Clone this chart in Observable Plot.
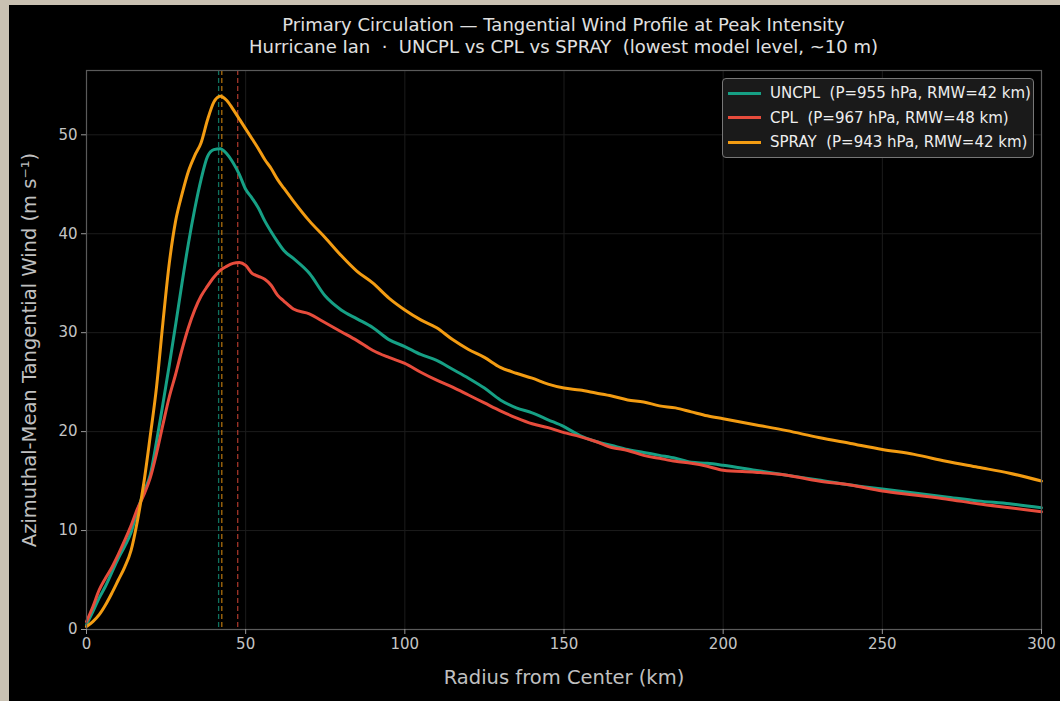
<!DOCTYPE html>
<html>
<head>
<meta charset="utf-8">
<script src="https://cdn.jsdelivr.net/npm/d3@7"></script>
<script src="https://cdn.jsdelivr.net/npm/@observablehq/plot@0.6"></script>
<style>
  html, body { margin: 0; padding: 0; background: #c9c1b2; width: 1060px; height: 701px; overflow: hidden; }
  #panel { position: absolute; left: 9px; top: 5px; width: 1051px; height: 696px; background: #000; font-family: "DejaVu Sans", sans-serif; }
  #title { position: absolute; left: 77px; width: 955px; top: 9px; text-align: center; color: #e0e0e0; font-size: 18px; line-height: 22px; white-space: pre; }
  #chart { position: absolute; left: 0; top: 55px; }
  #legend { position: absolute; left: 713px; top: 73px; width: 312px; height: 80px; background: #1a1a1a; border: 1px solid #777; border-radius: 4px; box-sizing: border-box; padding: 2px 0 0 5px; }
  .row { display: flex; align-items: center; height: 24.5px; color: #eee; font-size: 15px; white-space: pre; }
  .sw { width: 33px; height: 3px; margin-right: 9px; }
</style>
</head>
<body>
<div id="panel">
  <div id="title"></div>
  <div id="chart"></div>
  <div id="legend"></div>
</div>
<script>
const titleLines = ["Primary Circulation — Tangential Wind Profile at Peak Intensity", "Hurricane Ian  ·  UNCPL vs CPL vs SPRAY  (lowest model level, ~10 m)"];

const radius = [0,2,4,6,8,10,12,14,16,18,20,22,24,26,28,30,32,34,36,38,40,42,44,46,48,50,52,54,56,58,60,62,65,70,75,80,85,90,95,100,105,110,115,120,125,130,135,140,145,150,155,160,165,170,175,180,185,190,195,200,210,220,230,240,250,260,270,280,290,300];

const uncpl = [0.5,1.8,3.2,4.4,5.8,7.2,8.4,9.8,12.0,13.9,15.6,19.0,22.8,26.7,30.8,35.0,39.0,42.5,45.5,47.8,48.5,48.6,48.1,47.2,46.0,44.5,43.6,42.6,41.3,40.2,39.2,38.3,37.5,36.0,33.7,32.3,31.4,30.5,29.3,28.6,27.8,27.2,26.3,25.4,24.4,23.2,22.4,21.9,21.2,20.5,19.6,19.0,18.6,18.2,17.9,17.6,17.3,16.9,16.8,16.6,16.1,15.6,15.1,14.6,14.2,13.8,13.4,13.0,12.7,12.3];

const cpl = [0.8,2.3,4.0,5.2,6.3,7.6,9.0,10.5,12.2,13.6,15.3,17.8,20.7,23.5,25.8,28.3,30.5,32.3,33.7,34.7,35.6,36.3,36.7,37.0,37.1,36.8,36.0,35.7,35.4,34.8,33.8,33.2,32.4,31.9,31.0,30.1,29.2,28.2,27.5,26.9,26.0,25.2,24.5,23.7,22.9,22.1,21.4,20.8,20.4,19.9,19.5,19.0,18.4,18.1,17.6,17.3,17.0,16.8,16.5,16.1,15.9,15.6,15.0,14.6,14.0,13.6,13.2,12.7,12.3,11.9];

const spray = [0.3,0.8,1.5,2.5,3.7,5.0,6.3,8.0,11.0,14.8,19.5,24.5,31.0,37.0,41.3,44.0,46.3,47.9,49.2,51.5,53.3,53.9,53.5,52.6,51.6,50.6,49.6,48.6,47.5,46.6,45.5,44.6,43.3,41.3,39.6,37.8,36.2,35.0,33.5,32.3,31.3,30.5,29.3,28.3,27.5,26.5,25.9,25.4,24.8,24.4,24.2,23.9,23.6,23.2,23.0,22.6,22.4,22.0,21.6,21.3,20.7,20.1,19.4,18.8,18.2,17.7,17.0,16.4,15.8,15.0];

const seriesNames = ["UNCPL", "CPL", "SPRAY"];
const seriesColors = ["#16a085", "#e74c3c", "#f39c12"];
const seriesPressure = [955, 967, 943];
const seriesRmw = [41.5, 47.5, 42.5];
const seriesRmwLabel = [42, 48, 42];
const xTicks = [0, 50, 100, 150, 200, 250, 300];
const yTicks = [0, 10, 20, 30, 40, 50];

document.getElementById("title").textContent = titleLines.join("\n");

const valuesBySeries = [uncpl, cpl, spray];
const rows = [];
seriesNames.forEach((s, i) => radius.forEach((r, j) => rows.push({series: s, r, v: valuesBySeries[i][j]})));
const rmwRows = seriesNames.map((s, i) => ({series: s, r: seriesRmw[i]}));

const plot = Plot.plot({
  width: 1051,
  height: 641,
  marginLeft: 77,
  marginRight: 19,
  marginTop: 10,
  marginBottom: 72,
  style: {background: "#000", color: "#c0c0c0", fontFamily: "DejaVu Sans, sans-serif", fontSize: "15px"},
  x: {domain: [0, 300]},
  y: {domain: [0, 56.5]},
  color: {domain: seriesNames, range: seriesColors},
  marks: [
    Plot.gridX(xTicks, {stroke: "#1c1c1c", strokeOpacity: 1}),
    Plot.gridY(yTicks, {stroke: "#1c1c1c", strokeOpacity: 1}),
    Plot.ruleX(rmwRows, {x: "r", stroke: "series", strokeDasharray: "5,3", strokeWidth: 1.3, strokeOpacity: 0.7}),
    Plot.line(rows, {x: "r", y: "v", z: "series", stroke: "series", strokeWidth: 3, curve: "monotone-x"}),
    Plot.frame({stroke: "#5a5a5a", strokeWidth: 1.2}),
    Plot.axisX({ticks: xTicks, tickSize: 5, stroke: "#999", fill: "#c4c4c4", fontSize: 15, label: null, tickPadding: 4}),
    Plot.axisY({ticks: yTicks, tickSize: 5, stroke: "#999", fill: "#c4c4c4", fontSize: 15, label: null, tickPadding: 4}),
    Plot.axisX({ticks: [], tickSize: 0, label: "Radius from Center (km)", labelAnchor: "center", labelArrow: "none", labelOffset: 54, fill: "#c0c0c0", fontSize: 19.5}),
    Plot.axisY({ticks: [], tickSize: 0, label: "Azimuthal-Mean Tangential Wind (m s⁻¹)", labelAnchor: "center", labelArrow: "none", labelOffset: 64, fill: "#c0c0c0", fontSize: 19.5})
  ]
});
document.getElementById("chart").appendChild(plot);

const legend = document.getElementById("legend");
seriesNames.forEach((s, i) => {
  const row = document.createElement("div");
  row.className = "row";
  const sw = document.createElement("div");
  sw.className = "sw";
  sw.style.background = seriesColors[i];
  const t = document.createElement("span");
  t.textContent = `${s}  (P=${seriesPressure[i]} hPa, RMW=${seriesRmwLabel[i]} km)`;
  row.appendChild(sw);
  row.appendChild(t);
  legend.appendChild(row);
});
</script>
</body>
</html>
